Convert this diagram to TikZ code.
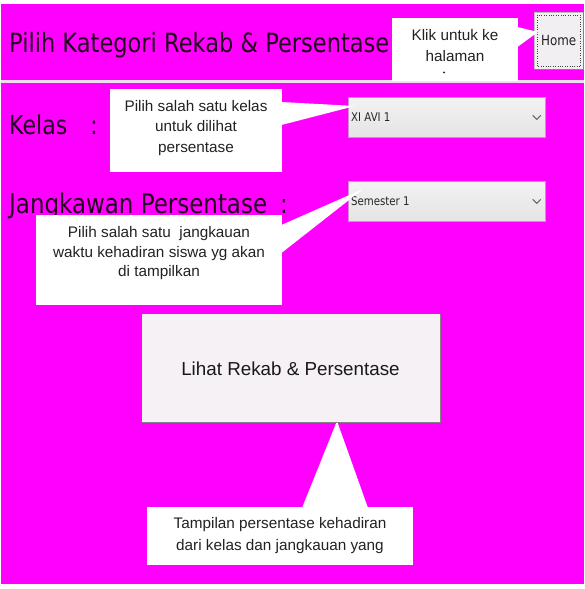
\documentclass[tikz,border=0pt]{standalone}
\usepackage{fontspec}
\setmainfont{Liberation Sans}
\newfontfamily\tahoma[FakeStretch=0.85]{DejaVu Sans}
\usetikzlibrary{calc}
\definecolor{mag}{HTML}{FF00FF}
\definecolor{ink}{HTML}{222222}
\definecolor{titleink}{HTML}{22001F}
\definecolor{btnfill}{HTML}{F5F1F5}
\definecolor{homefill}{HTML}{F2EFF2}
\definecolor{combotop}{HTML}{F2F2F2}
\definecolor{combobot}{HTML}{E4E4E4}
\definecolor{comboline}{HTML}{CC90D2}
\definecolor{sepline}{HTML}{EEDDEE}
\definecolor{shadowline}{HTML}{858085}
\begin{document}
\begin{tikzpicture}[x=1pt,y=-1pt,
  callbox/.style={fill=white,draw=none,inner sep=0pt,anchor=north west},
  calltext/.style={font=\fontsize{15.3}{#1}\selectfont,text=ink,align=center,inner sep=0pt},
  bigtext/.style={font=\tahoma\fontsize{#1}{30}\selectfont,text=titleink,inner sep=0pt,anchor=base west},
  combobox/.style={top color=combotop,bottom color=combobot,draw=comboline,line width=0.8pt,
    inner sep=0pt,anchor=north west,minimum width=197pt,minimum height=40pt},
  combotext/.style={font=\tahoma\fontsize{12}{14}\selectfont,text=black!85,inner sep=0pt,anchor=west},
  chevron/.style={draw=black!60,line width=1.1pt},
  wedge/.style={fill=white,draw=none}]
\useasboundingbox (0,0) rectangle (584,589);
\fill[white] (0,0) rectangle (584,589);
% panels
\fill[mag] (1,4) rectangle (584,80);
\fill[sepline] (1,80) rectangle (584,83);
\fill[mag] (1,83) rectangle (584,584);
% title
\node[bigtext=26.5] (title) at (9,52) {Pilih Kategori Rekab \& Persentase};
% home button
\node[fill=homefill,inner sep=0pt,anchor=north west,minimum width=49pt,minimum height=57pt] (home) at (534,12) {};
\node[font=\tahoma\fontsize{14}{16}\selectfont,text=ink,inner sep=0pt] (hometext) at (home.center) {Home};
\draw[black!25] (home.south west) -- (home.north west) -- (home.north east);
\draw[shadowline,line width=1pt] (home.north east) -- (home.south east) -- (home.south west);
\draw[black!75,dotted] ($(home.north west)+(3,3)$) rectangle ($(home.south east)+(-3,-3)$);
% callout 1
\node[callbox,minimum width=126pt,minimum height=63pt] (c1) at (392,18) {};
\node[calltext=21] (c1t) at (455,47) {\strut Klik untuk ke\\\strut halaman};
\fill[ink] ($(c1.south west)+(52,-9)$) circle (1.1pt);
\coordinate (t1) at (538,32);
\fill[wedge] ($(c1.north east)+(-1,9)$) -- (t1) -- ($(c1.north east)+(-1,29)$) -- cycle;
% labels
\node[bigtext=26] (kelas) at (9,134) {Kelas\hspace{23pt}:};
\node[bigtext=27] (jangka) at (9,213) {Jangkawan Persentase\hspace{13pt}:};
% combos
\node[combobox] (k1) at (348,97) {};
\node[combotext] (k1t) at ($(k1.west)+(3,0)$) {XI AVI 1};
\draw[chevron] ($(k1.east)+(-13,-2)$) -- ($(k1.east)+(-9,2)$) -- ($(k1.east)+(-5,-2)$);
\node[combobox] (k2) at (348,181) {};
\node[combotext] (k2t) at ($(k2.west)+(3,0)$) {Semester 1};
\draw[chevron] ($(k2.east)+(-13,-2)$) -- ($(k2.east)+(-9,2)$) -- ($(k2.east)+(-5,-2)$);
% callout 2
\node[callbox,minimum width=172pt,minimum height=83pt] (c2) at (110,89) {};
\node[calltext=20.5] (c2t) at (196,127.5) {\strut Pilih salah satu kelas\\\strut untuk dilihat\\\strut persentase};
\coordinate (t2) at (355,106);
\fill[wedge] ($(c2.north east)+(-1,13)$) -- (t2) -- ($(c2.north east)+(-1,36)$) -- cycle;
% callout 3
\node[callbox,minimum width=246pt,minimum height=90pt] (c3) at (36,215) {};
\node[calltext=19.5] (c3t) at (159,253.5) {\strut Pilih salah satu~ jangkauan\\\strut waktu kehadiran siswa yg akan\\\strut di tampilkan};
\coordinate (t3) at (363,189);
\fill[wedge] ($(c3.north east)+(-1,10)$) -- (t3) -- ($(c3.north east)+(-1,38)$) -- cycle;
% main button
\coordinate (t4) at (337,421);
\node[callbox,minimum width=266pt,minimum height=58pt] (c4) at (147,507) {};
\fill[wedge] ($(c4.north west)+(155,1)$) -- (t4) -- ($(c4.north west)+(221,1)$) -- cycle;
\node[fill=btnfill,inner sep=0pt,anchor=north west,minimum width=298pt,minimum height=108pt] (btn) at (142,314) {};
\node[font=\fontsize{18.8}{22}\selectfont,text=black!90,inner sep=0pt] (btnt) at (290.5,368.5) {Lihat Rekab \& Persentase};
\draw[shadowline,line width=1.2pt] (btn.north east) -- (btn.south east) -- (btn.south west);
% callout 4 text
\node[calltext=22] (c4t) at (280,535) {\strut Tampilan persentase kehadiran\\\strut dari kelas dan jangkauan yang};
\end{tikzpicture}
\end{document}
